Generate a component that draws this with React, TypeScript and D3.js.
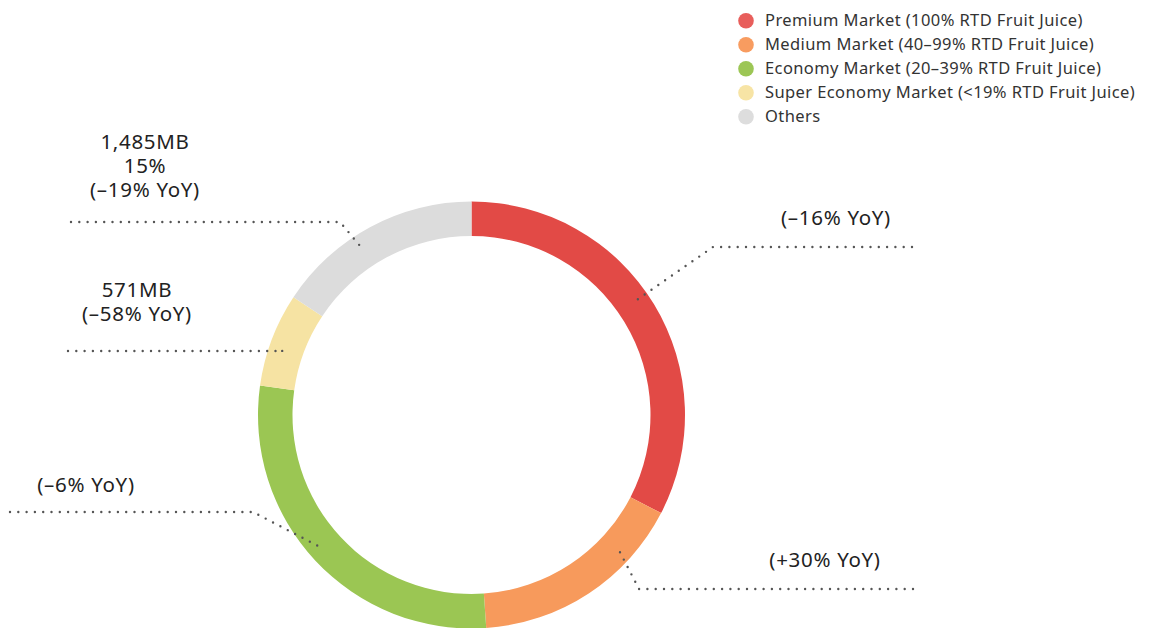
import * as d3 from "d3";
import React, { useEffect, useRef } from "react";

// segments of the RTD fruit juice market, clockwise from 12 o'clock
const segments = [
  "Premium Market (100% RTD Fruit Juice)",
  "Medium Market (40–99% RTD Fruit Juice)",
  "Economy Market (20–39% RTD Fruit Juice)",
  "Super Economy Market (<19% RTD Fruit Juice)",
  "Others",
];
// share of the ring (%)
const shares = [32.6, 16.3, 28.3, 7.1, 15.7];
const callouts = [
  ["(–16% YoY)"],
  ["(+30% YoY)"],
  ["(–6% YoY)"],
  ["571MB", "(–58% YoY)"],
  ["1,485MB", "15%", "(–19% YoY)"],
];

const ringColors = ["#e24a46", "#f79a5c", "#9bc653", "#f6e3a3", "#dcdcdc"];
const legendColors = ["#e85e5b", "#f89c60", "#9cc655", "#f7e4a5", "#dddddd"];

// where each callout sits: fraction along its slice, elbow, far end, text anchor
const calloutLayout = [
  { frac: 0.47, elbow: [713, 247], end: [912, 247], tx: 836, ty: 225 },
  { frac: 0.26, elbow: [639, 589], end: [913, 589], tx: 825, ty: 567 },
  { frac: 0.52, elbow: [253, 512], end: [10, 512], tx: 86, ty: 492 },
  { frac: 0.42, elbow: [283, 351], end: [68, 351], tx: 137, ty: 321 },
  { frac: 0.41, elbow: [340, 222], end: [71, 222], tx: 145, ty: 197 },
];

const font = "'Noto Sans', sans-serif";

export default function App() {
  const svgRef = useRef<SVGSVGElement>(null);

  useEffect(() => {
    const width = 1150, height = 628;
    const svg = d3.select(svgRef.current);
    svg.selectAll("*").remove();
    svg.attr("width", width).attr("height", height);

    const cx = 471.5, cy = 415, outerR = 213.5, innerR = 179;

    const pie = d3.pie<number>().sort(null).value((d) => d);
    const arcs = pie(shares);
    const arc = d3.arc<d3.PieArcDatum<number>>().innerRadius(innerR).outerRadius(outerR);

    const g = svg.append("g").attr("transform", `translate(${cx},${cy})`);
    g.selectAll("path")
      .data(arcs)
      .enter()
      .append("path")
      .attr("d", arc)
      .attr("fill", (_, i) => ringColors[i]);

    // leader lines (dotted)
    const line = d3.line();
    arcs.forEach((a, i) => {
      const lay = calloutLayout[i];
      const ang = a.startAngle + (a.endAngle - a.startAngle) * lay.frac;
      const r = 201;
      const px = cx + r * Math.sin(ang);
      const py = cy - r * Math.cos(ang);
      svg.append("path")
        .attr("d", line([lay.end as [number, number], lay.elbow as [number, number], [px, py]]))
        .attr("fill", "none")
        .attr("stroke", "#555")
        .attr("stroke-width", 2.4)
        .attr("stroke-linecap", "round")
        .attr("stroke-dasharray", "0,8.3");

      const lines = callouts[i];
      const t = svg.append("text")
        .attr("text-anchor", "middle")
        .style("font-family", font)
        .style("font-size", "20.5px")
        .style("letter-spacing", "0.7px")
        .style("fill", "#222");
      lines.forEach((s, k) => {
        t.append("tspan")
          .attr("x", lay.tx)
          .attr("y", lay.ty - (lines.length - 1 - k) * 24)
          .text(s);
      });
    });

    // legend
    const legend = svg.append("g").attr("transform", "translate(746,20.7)");
    segments.forEach((s, i) => {
      const row = legend.append("g").attr("transform", `translate(0,${i * 24})`);
      row.append("circle").attr("r", 7.8).attr("fill", legendColors[i]);
      row.append("text")
        .attr("x", 19)
        .attr("dy", "0.35em")
        .style("font-family", font)
        .style("font-size", "16.5px")
        .style("letter-spacing", "0.4px")
        .style("fill", "#333")
        .text(s);
    });
  }, []);

  return (
    <svg
      ref={svgRef}
      style={{ position: "absolute", left: 0, top: 0, display: "block" }}
    />
  );
}
